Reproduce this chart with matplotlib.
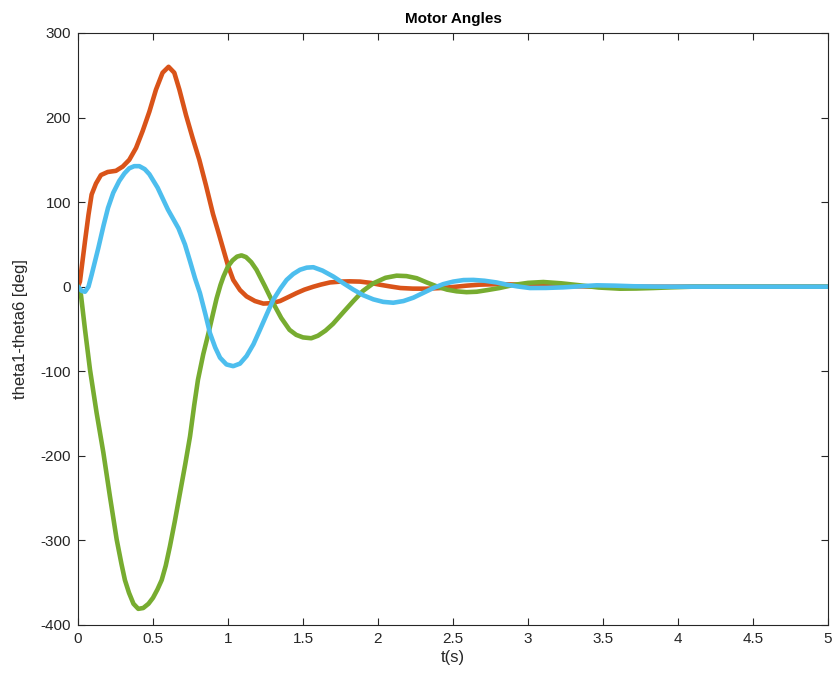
import numpy as np
import matplotlib
matplotlib.use("Agg")
import matplotlib.pyplot as plt

# Значения (t в секундах, углы в градусах)
t_theta2 = [0, 0.013, 0.047, 0.07, 0.091, 0.12, 0.153, 0.198, 0.253, 0.298,
            0.342, 0.387, 0.431, 0.476, 0.52, 0.564, 0.604, 0.642, 0.676,
            0.72, 0.764, 0.809, 0.853, 0.90, 0.935, 0.969, 1.0, 1.035, 1.08,
            1.124, 1.18, 1.236, 1.29, 1.347, 1.40, 1.458, 1.51, 1.57, 1.62,
            1.68, 1.75, 1.81, 1.88, 1.95, 2.01, 2.08, 2.15, 2.23, 2.32, 2.41,
            2.50, 2.59, 2.68, 2.81, 2.9, 3.0, 3.15, 3.3, 3.45, 3.6, 4.0, 5.0]
theta2 = [0, 6, 54, 85, 109, 122, 132, 135.6, 137, 142,
          150, 164, 184, 207, 233, 253, 260, 253, 233,
          203, 176, 150, 120, 86, 65, 44, 25, 8, -4,
          -11.5, -17, -20, -19.5, -17, -12.5, -7.5, -3.5, 0, 2.5,
          5, 6, 6.3, 6, 4.5, 2.4, 0.3, -1.6, -2.3, -2.4, -1.7,
          -0.4, 1.2, 2.4, 3, 2.6, 2, 1.2, 0.5, 0.1, 0, 0, 0]

t_theta5 = [0, 0.02, 0.047, 0.08, 0.124, 0.169, 0.213, 0.258, 0.29, 0.313,
            0.34, 0.37, 0.402, 0.435, 0.47, 0.50, 0.53, 0.558, 0.585, 0.613,
            0.645, 0.68, 0.715, 0.747, 0.775, 0.80, 0.835, 0.87, 0.90, 0.924,
            0.95, 0.97, 1.00, 1.03, 1.06, 1.09, 1.12, 1.155, 1.19, 1.245,
            1.30, 1.355, 1.41, 1.455, 1.50, 1.555, 1.60, 1.65, 1.70, 1.77,
            1.836, 1.90, 1.969, 2.05, 2.124, 2.19, 2.258, 2.325, 2.391, 2.46,
            2.524, 2.59, 2.658, 2.73, 2.81, 2.902, 3.0, 3.102, 3.22, 3.347,
            3.47, 3.613, 3.72, 3.836, 3.95, 4.1, 4.5, 5.0]
theta5 = [0, -10, -51, -98, -149, -196, -248, -299, -328, -347,
          -362, -375, -381, -380, -375, -368, -358, -347, -330, -307,
          -278, -244, -210, -177, -140, -110, -80, -55, -32, -14,
          2, 12, 24, 31, 35.5, 37, 35, 29, 20, 1,
          -19, -37, -51, -57, -60, -61, -58, -52, -44, -30,
          -17, -5, 4, 10.5, 13, 12.5, 10, 5, 0.4, -3.5,
          -5.5, -6.5, -6, -4, -1.6, 2, 4.5, 5.5, 4, 1.6,
          -1, -2.4, -2.2, -1.6, -0.8, 0, 0, 0]

t_theta6 = [0, 0.025, 0.047, 0.07, 0.091, 0.136, 0.17, 0.2, 0.235, 0.275,
            0.31, 0.342, 0.375, 0.409, 0.445, 0.476, 0.531, 0.60, 0.67,
            0.713, 0.747, 0.78, 0.813, 0.85, 0.88, 0.915, 0.947, 0.99, 1.035,
            1.08, 1.124, 1.17, 1.213, 1.26, 1.302, 1.35, 1.391, 1.435, 1.48,
            1.525, 1.569, 1.63, 1.702, 1.77, 1.836, 1.90, 1.969, 2.035, 2.102,
            2.17, 2.236, 2.30, 2.369, 2.435, 2.502, 2.57, 2.636, 2.71, 2.79,
            2.858, 2.93, 3.013, 3.12, 3.236, 3.35, 3.458, 3.58, 3.7, 3.85,
            4.0, 5.0]
theta6 = [0, -5, -6, 0, 14, 46, 72, 93, 111, 125,
          134, 140, 142.5, 142.5, 139, 133, 117, 91, 69,
          50, 30, 10, -7.5, -33, -55, -72, -84, -92, -94,
          -91, -82, -68, -51, -32, -15.5, -2, 8, 15, 20,
          22.5, 23, 19, 12, 4, -3.5, -10, -15, -18, -19,
          -17, -13, -7.5, -1.6, 3, 6, 7.8, 8, 7, 5,
          2.4, 0.3, -1.6, -1.5, -0.8, 0.5, 1.6, 1.2, 0.5, 0.1,
          0, 0]

x_ticks = np.arange(0, 5.01, 0.5)
x_tick_labels = ['0', '0.5', '1', '1.5', '2', '2.5', '3', '3.5', '4', '4.5', '5']
y_ticks = np.arange(-400, 301, 100)

# Стиль в духе MATLAB
plt.rcParams['font.family'] = ['Liberation Sans', 'DejaVu Sans']
plt.rcParams['axes.unicode_minus'] = False
axis_color = '#262626'

fig = plt.figure(figsize=(8.34, 6.8), dpi=100)
ax = fig.add_axes([0.0935, 0.081, 0.8993, 0.8705])

lw = 3.3
ax.plot(t_theta2, theta2, color='#D95319', linewidth=lw, solid_joinstyle='round')
ax.plot(t_theta5, theta5, color='#77AC30', linewidth=lw, solid_joinstyle='round')
ax.plot(t_theta6, theta6, color='#4DBEEE', linewidth=lw, solid_joinstyle='round')

ax.set_xlim(0, 5)
ax.set_ylim(-400, 300)
ax.set_xticks(x_ticks)
ax.set_xticklabels(x_tick_labels)
ax.set_yticks(y_ticks)

ax.tick_params(direction='in', length=5, width=0.8, colors=axis_color,
               labelsize=11, top=True, right=True, pad=5)
for spine in ax.spines.values():
    spine.set_color(axis_color)
    spine.set_linewidth(0.8)

ax.set_title('Motor Angles', fontsize=11, fontweight='bold', color='black', pad=7)
ax.set_xlabel('t(s)', fontsize=12, color=axis_color, labelpad=3)
ax.set_ylabel('theta1-theta6 [deg]', fontsize=12, color=axis_color, labelpad=9)

fig.savefig('out.png', dpi=100)
